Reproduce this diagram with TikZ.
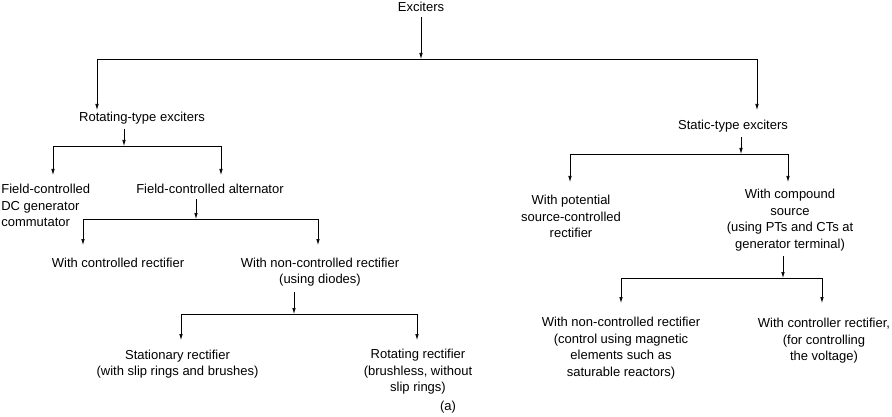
\documentclass[tikz,border=0pt]{standalone}
\usepackage{fontspec}
\setmainfont{Liberation Sans}
\usetikzlibrary{arrows.meta}

\tikzset{
  lbl/.style={font=\fontsize{13}{16.5}\selectfont, align=center, inner sep=0pt},
  arr/.style={-{Latex[length=6pt,width=3.5pt]}},
  feed/.style={arr, shorten <=5pt}
}

\begin{document}
\begin{tikzpicture}[x=1pt, y=-1pt, line width=0.7pt, line cap=butt, line join=miter]

\useasboundingbox (0,0) rectangle (892,417);

% -----------------------
% Labels
% -----------------------
\node[lbl] (exc) at (421,7) {Exciters};

\node[lbl] (rot) at (142,118) {Rotating-type exciters};
\node[lbl] (sta) at (733,126) {Static-type exciters};

\node[lbl, align=left, anchor=west] (fcdc) at (1,205.5) {Field-controlled\\DC generator\\commutator};
\node[lbl] (fca) at (210,189) {Field-controlled alternator};

\node[lbl] (ctrl) at (118,263) {With controlled rectifier};
\node[lbl] (nctrl) at (320,272) {With non-controlled rectifier\\(using diodes)};

\node[lbl] (statr) at (177.5,364) {Stationary rectifier\\(with slip rings and brushes)};
\node[lbl] (rotr) at (418,372) {Rotating rectifier\\(brushless, without\\slip rings)};

\node[lbl] (pot) at (571,216.5) {With potential\\source-controlled\\rectifier};
\node[lbl] (comp) at (790,220) {With compound\\source\\(using PTs and CTs at\\generator terminal)};

\node[lbl] (nctrl2) at (621,348) {With non-controlled rectifier\\(control using magnetic\\elements such as\\saturable reactors)};
\node[lbl] (ctrl2) at (824,341) {With controller rectifier,\\(for controlling\\the voltage)};

\node[lbl] (cap) at (448,407) {(a)};

% -----------------------
% Junctions and arrow ends
% -----------------------
\coordinate (j1) at (421,59);
\coordinate (in_rot) at (97,110);
\coordinate (in_sta) at (757,110);

\coordinate (j2) at (124,146);
\coordinate (in_fcdc) at (53,175);
\coordinate (in_fca) at (221,175);

\coordinate (j3) at (196,219);
\coordinate (in_ctrl) at (83,245);
\coordinate (in_nctrl) at (318,245);

\coordinate (j4) at (294,314);
\coordinate (in_statr) at (181,340);
\coordinate (in_rotr) at (417,340);

\coordinate (j5) at (741,154);
\coordinate (in_pot) at (570,182);
\coordinate (in_comp) at (788,182);

\coordinate (j6) at (783,278);
\coordinate (in_nctrl2) at (621,303);
\coordinate (in_ctrl2) at (822,303);

% -----------------------
% Top level
% -----------------------
\draw[feed] (exc.south -| j1) -- (j1);
\draw[arr] (j1) -| (in_rot);
\draw[arr] (j1) -| (in_sta);

% -----------------------
% Rotating-type branch
% -----------------------
\draw[feed] (rot.south -| j2) -- (j2);
\draw[arr] (j2) -| (in_fcdc);
\draw[arr] (j2) -| (in_fca);

\draw[feed] (fca.south -| j3) -- (j3);
\draw[arr] (j3) -| (in_ctrl);
\draw[arr] (j3) -| (in_nctrl);

\draw[feed] (nctrl.south -| j4) -- (j4);
\draw[arr] (j4) -| (in_statr);
\draw[arr] (j4) -| (in_rotr);

% -----------------------
% Static-type branch
% -----------------------
\draw[feed] (sta.south -| j5) -- (j5);
\draw[arr] (j5) -| (in_pot);
\draw[arr] (j5) -| (in_comp);

\draw[feed] (comp.south -| j6) -- (j6);
\draw[arr] (j6) -| (in_nctrl2);
\draw[arr] (j6) -| (in_ctrl2);

\end{tikzpicture}
\end{document}
